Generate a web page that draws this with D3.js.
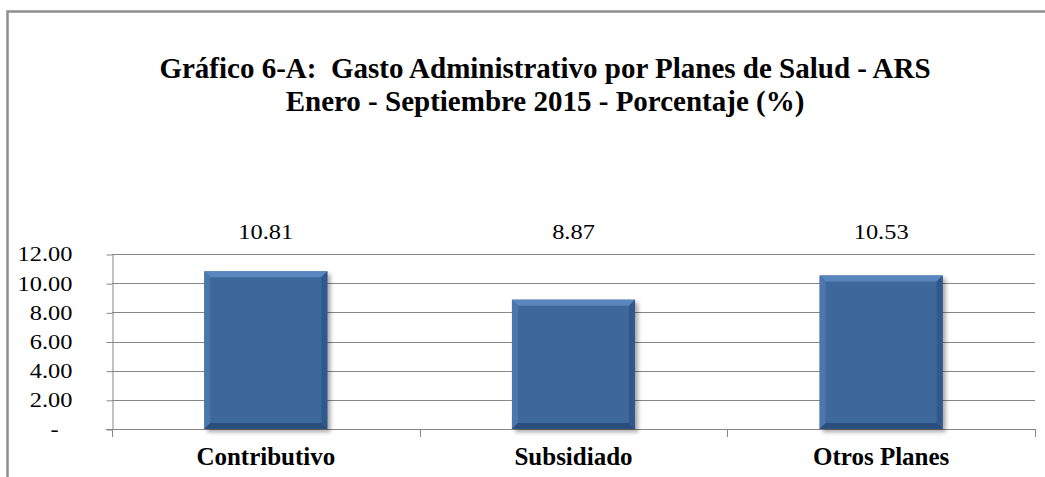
<!DOCTYPE html>
<html>
<head>
<meta charset="utf-8">
<script src="https://cdn.jsdelivr.net/npm/d3@7"></script>
<style>
	body { margin: 0; background: #fff; }
	svg text { white-space: pre; }
</style>
</head>
<body>
<script>
// chart data
var categories = ["Contributivo", "Subsidiado", "Otros Planes"];
var values = [10.81, 8.87, 10.53];
var yTicks = [0, 2, 4, 6, 8, 10, 12];
var yTickLabels = ["-", "2.00", "4.00", "6.00", "8.00", "10.00", "12.00"];
var titleLines = ["Gráfico 6-A:  Gasto Administrativo por Planes de Salud - ARS", "Enero - Septiembre 2015 - Porcentaje (%)"];

const width = 1045;
const height = 477;
const plot = {left: 112, right: 1035, top: 254, bottom: 429};
const axisColor = "#868686";
const serif = "'Liberation Serif', 'Times New Roman', serif";

const svg = d3.select("body").append("svg")
	.attr("width", width)
	.attr("height", height)
	.style("font-family", serif);

// drop shadow for bars
const defs = svg.append("defs");
defs.append("filter")
	.attr("id", "shadow")
	.attr("x", "-10%").attr("y", "-10%")
	.attr("width", "130%").attr("height", "130%")
	.append("feDropShadow")
		.attr("dx", 3).attr("dy", 3)
		.attr("stdDeviation", 2)
		.attr("flood-color", "#000")
		.attr("flood-opacity", 0.35);

// outer frame (left and top only)
svg.append("path")
	.attr("d", `M7.5,${height} L7.5,11.5 L${width},11.5`)
	.attr("fill", "none")
	.attr("stroke", "#8e8e8e")
	.attr("stroke-width", 2.5);

// title
svg.selectAll(".title")
	.data(titleLines)
	.enter()
	.append("text")
		.attr("class", "title")
		.attr("x", 545)
		.attr("y", (d, i) => 78 + i * 33)
		.attr("text-anchor", "middle")
		.style("font-family", serif)
		.style("font-size", "29px")
		.style("font-weight", "bold")
		.attr("fill", "#000")
		.text(d => d);

const xScale = d3.scaleBand()
	.domain(categories)
	.range([plot.left, plot.right])
	.padding(0);

const yScale = d3.scaleLinear()
	.domain([0, 12])
	.range([plot.bottom, plot.top]);

// gridlines
svg.append("g")
	.selectAll("line")
	.data(yTicks.filter(d => d > 0))
	.enter()
	.append("line")
		.attr("x1", plot.left)
		.attr("x2", plot.right)
		.attr("y1", d => Math.round(yScale(d)) + 0.5)
		.attr("y2", d => Math.round(yScale(d)) + 0.5)
		.attr("stroke", axisColor)
		.attr("stroke-width", 1);

// y axis
const yAxis = svg.append("g")
	.attr("transform", `translate(${plot.left + 0.5}, 0.5)`)
	.call(d3.axisLeft(yScale)
		.tickValues(yTicks)
		.tickFormat((d, i) => yTickLabels[i])
		.tickSize(6)
		.tickSizeOuter(0)
		.tickPadding(34));
yAxis.attr("font-family", null).attr("font-size", null);
yAxis.select(".domain").attr("stroke", axisColor);
yAxis.selectAll(".tick line").attr("stroke", axisColor);
yAxis.selectAll(".tick text")
	.style("font-family", serif)
	.style("font-size", "20px")
	.attr("fill", "#000")
	.attr("dx", d => d === 0 ? -14 : 0)
	.each(function(){
		this.setAttribute("textLength", this.getComputedTextLength() * 1.22);
		this.setAttribute("lengthAdjust", "spacingAndGlyphs");
	});

// x axis line and category separators
const xAxis = svg.append("g");
xAxis.append("line")
	.attr("x1", plot.left - 6)
	.attr("x2", plot.right)
	.attr("y1", plot.bottom + 0.5)
	.attr("y2", plot.bottom + 0.5)
	.attr("stroke", axisColor);
const edges = categories.map(c => xScale(c)).concat([xScale.range()[1]]);
xAxis.selectAll(".sep")
	.data(edges)
	.enter()
	.append("line")
		.attr("class", "sep")
		.attr("x1", d => Math.round(d) + 0.5)
		.attr("x2", d => Math.round(d) + 0.5)
		.attr("y1", plot.bottom)
		.attr("y2", plot.bottom + 8)
		.attr("stroke", axisColor);
xAxis.selectAll(".cat")
	.data(categories)
	.enter()
	.append("text")
		.attr("class", "cat")
		.attr("x", d => xScale(d) + xScale.bandwidth() / 2)
		.attr("y", 465)
		.attr("text-anchor", "middle")
		.style("font-family", serif)
		.style("font-size", "25px")
		.style("font-weight", "bold")
		.attr("fill", "#000")
		.text(d => d);

// bars with bevel
const barWidth = xScale.bandwidth() * 0.4;
const bevel = 6;
const barData = categories.map((c, i) => {
	const x0 = xScale(c) + (xScale.bandwidth() - barWidth) / 2;
	return {cat: c, val: values[i], x0: x0, x1: x0 + barWidth, y0: yScale(values[i]), y1: yScale(0)};
});

const bars = svg.append("g").selectAll("g")
	.data(barData)
	.enter()
	.append("g");

bars.append("rect")
	.attr("x", d => d.x0)
	.attr("y", d => d.y0)
	.attr("width", d => d.x1 - d.x0)
	.attr("height", d => d.y1 - d.y0)
	.attr("fill", "#3e679b")
	.attr("filter", "url(#shadow)");

const facets = [
	{fill: "#5a86bf", pts: d => [[d.x0, d.y0], [d.x1, d.y0], [d.x1 - bevel, d.y0 + bevel], [d.x0 + bevel, d.y0 + bevel]]},
	{fill: "#4b77ad", pts: d => [[d.x0, d.y0], [d.x0 + bevel, d.y0 + bevel], [d.x0 + bevel, d.y1 - bevel], [d.x0, d.y1]]},
	{fill: "#30588a", pts: d => [[d.x1, d.y0], [d.x1, d.y1], [d.x1 - bevel, d.y1 - bevel], [d.x1 - bevel, d.y0 + bevel]]},
	{fill: "#2b4e7c", pts: d => [[d.x0, d.y1], [d.x0 + bevel, d.y1 - bevel], [d.x1 - bevel, d.y1 - bevel], [d.x1, d.y1]]}
];
facets.forEach(f => {
	bars.append("polygon")
		.attr("points", d => f.pts(d).map(p => p.join(",")).join(" "))
		.attr("fill", f.fill);
});

// value labels
svg.append("g").selectAll("text")
	.data(barData)
	.enter()
	.append("text")
		.attr("x", d => (d.x0 + d.x1) / 2)
		.attr("y", 239)
		.attr("text-anchor", "middle")
		.style("font-family", serif)
		.style("font-size", "20px")
		.attr("fill", "#000")
		.text(d => d.val.toFixed(2))
		.each(function(){
			this.setAttribute("textLength", this.getComputedTextLength() * 1.22);
			this.setAttribute("lengthAdjust", "spacingAndGlyphs");
		});
</script>
</body>
</html>
